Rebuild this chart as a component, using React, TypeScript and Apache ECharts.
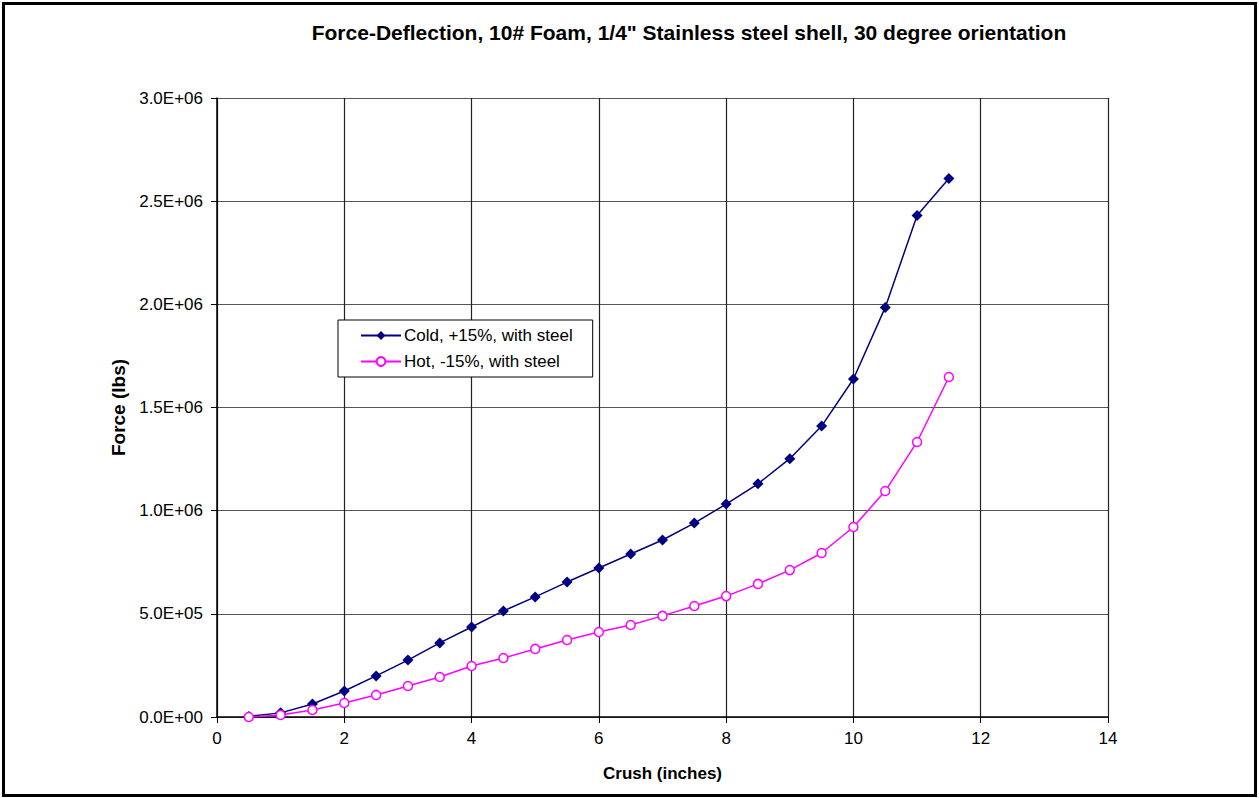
import React, { useEffect, useRef } from "react";
import * as echarts from "echarts";

const crush = [0.5, 1, 1.5, 2, 2.5, 3, 3.5, 4, 4.5, 5, 5.5, 6, 6.5, 7, 7.5, 8, 8.5, 9, 9.5, 10, 10.5, 11, 11.5];
const coldForce = [3000, 20000, 63000, 126000, 199000, 276000, 359000, 436000, 514000, 582000, 654000, 722000, 790000, 858000, 940000, 1032000, 1130000, 1252000, 1410000, 1638000, 1985000, 2430000, 2610000];
const hotForce = [0, 10000, 34000, 68000, 107000, 150000, 194000, 247000, 286000, 330000, 373000, 412000, 446000, 490000, 538000, 586000, 645000, 712000, 795000, 921000, 1095000, 1333000, 1648000];
const seriesNames = ["Cold, +15%, with steel", "Hot, -15%, with steel"];
const titleText = "Force-Deflection, 10# Foam, 1/4\" Stainless steel shell, 30 degree orientation";

const fmtExp = (v: number) => {
  if (v === 0) return "0.0E+00";
  const e = Math.floor(Math.log10(Math.abs(v)));
  const m = v / Math.pow(10, e);
  return m.toFixed(1) + "E+" + String(e).padStart(2, "0");
};

export default function App() {
  const ref = useRef<HTMLDivElement>(null);
  useEffect(() => {
    if (!ref.current) return;
    const chart = echarts.init(ref.current, null, { renderer: "svg" });
    const font = "Liberation Sans, Arial, sans-serif";
    chart.setOption({
      animation: false,
      backgroundColor: "#fff",
      textStyle: { fontFamily: font },
      title: {
        text: titleText,
        left: 684,
        top: 17,
        textAlign: "center",
        textStyle: { fontSize: 21, fontWeight: "bold", color: "#000", fontFamily: font },
      },
      graphic: [
        {
          type: "rect",
          shape: { x: 3.5, y: 3.5, width: 1252, height: 792 },
          style: { fill: "none", stroke: "#000", lineWidth: 3 },
          silent: true,
        },
      ],
      legend: {
        orient: "vertical",
        left: 338,
        top: 320,
        padding: [7, 20, 7, 22],
        itemGap: 9,
        itemWidth: 40,
        itemHeight: 11,
        borderColor: "#000",
        borderWidth: 1,
        backgroundColor: "#fff",
        textStyle: { fontSize: 17, color: "#000", fontFamily: font, padding: [0, 0, 0, -2] },
        data: seriesNames,
      },
      grid: { left: 217, right: 1259 - 1108, top: 98, bottom: 798 - 717, containLabel: false },
      xAxis: {
        type: "value",
        min: 0,
        max: 14,
        interval: 2,
        name: "Crush (inches)",
        nameLocation: "middle",
        nameGap: 48,
        nameTextStyle: { fontSize: 17, fontWeight: "bold", color: "#000", fontFamily: font },
        axisLine: { show: true, lineStyle: { color: "#000", width: 1.5 } },
        axisTick: { show: true, inside: false, length: 6, lineStyle: { color: "#000" } },
        axisLabel: { fontSize: 17, color: "#000", margin: 13, fontFamily: font },
        splitLine: { show: true, lineStyle: { color: "#222", width: 1.2 } },
      },
      yAxis: {
        type: "value",
        min: 0,
        max: 3000000,
        interval: 500000,
        name: "Force (lbs)",
        nameLocation: "middle",
        nameGap: 89,
        nameRotate: 90,
        nameTextStyle: { fontSize: 19, fontWeight: "bold", color: "#000", fontFamily: font },
        axisLine: { show: true, lineStyle: { color: "#000", width: 1.5 } },
        axisTick: { show: true, inside: false, length: 6, lineStyle: { color: "#000" } },
        axisLabel: { fontSize: 17, color: "#000", margin: 14, formatter: fmtExp, fontFamily: font },
        splitLine: { show: true, lineStyle: { color: "#555", width: 1.2 } },
      },
      series: [
        {
          name: seriesNames[0],
          type: "line",
          data: crush.map((x, i) => [x, coldForce[i]]),
          symbol: "diamond",
          symbolSize: 11,
          lineStyle: { color: "#000080", width: 1.5 },
          itemStyle: { color: "#000080", borderColor: "#000080", borderWidth: 0 },
          z: 3,
        },
        {
          name: seriesNames[1],
          type: "line",
          data: crush.map((x, i) => [x, hotForce[i]]),
          symbol: "circle",
          symbolSize: 9,
          showAllSymbol: true,
          lineStyle: { color: "#FF00FF", width: 1.5 },
          itemStyle: { color: "#fff", borderColor: "#FF00FF", borderWidth: 1.5 },
          z: 4,
        },
      ],
    });
    return () => chart.dispose();
  }, []);
  return (
    <div
      ref={ref}
      style={{ position: "fixed", left: 0, top: 0, width: 1259, height: 798 }}
    />
  );
}
